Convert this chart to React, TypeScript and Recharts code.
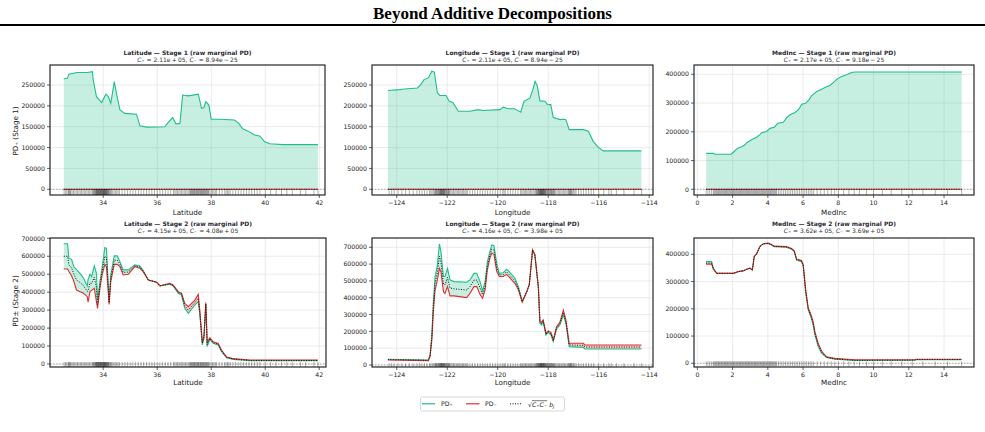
import React from 'react';
import { ComposedChart, Line, Area, Scatter, XAxis, YAxis, CartesianGrid, ReferenceLine } from 'recharts';

// ---------------- DATA ----------------
// Stage 1 (raw marginal PD), values in thousands
const LAT_S1_X = [32.54, 32.67, 32.73, 33.04, 33.41, 33.6, 33.63, 33.75, 33.94, 34.1, 34.19, 34.28, 34.41, 34.49, 34.62, 34.8, 35.23, 35.36, 35.6, 36.28, 36.4, 36.57, 36.69, 36.84, 36.94, 37.15, 37.52, 37.64, 37.73, 37.8, 37.91, 38.0, 38.31, 38.86, 39.02, 39.16, 39.35, 39.6, 39.79, 39.98, 40.17, 40.66, 41.95];
const LAT_S1_POS = [265, 266, 276, 280, 280, 282, 262, 222, 208, 228, 222, 206, 258, 230, 190, 182, 180, 152, 149, 150, 160, 172, 157, 158, 226, 224, 228, 194, 196, 210, 202, 168, 168, 166, 158, 145, 140, 130, 128, 114, 109, 107, 107];

const LON_S1_X = [-124.35, -123.87, -123.8, -123.18, -123.05, -122.92, -122.75, -122.61, -122.51, -122.39, -122.29, -122.05, -121.92, -121.78, -121.56, -121.1, -120.77, -120.58, -119.91, -119.78, -119.58, -119.34, -119.18, -119.09, -118.96, -118.72, -118.61, -118.52, -118.43, -118.33, -118.13, -118.04, -117.9, -117.8, -117.53, -117.4, -117.3, -117.17, -116.61, -116.41, -116.22, -116.02, -115.82, -114.31];
const LON_S1_POS = [237, 239, 240, 243, 251, 263, 267, 283, 281, 231, 225, 225, 211, 208, 187, 187, 191, 189, 191, 197, 193, 193, 188, 185, 211, 219, 239, 259, 247, 212, 211, 204, 203, 172, 167, 168, 167, 143, 143, 139, 115, 101, 92, 92];

const INC_S1_X = [0.5, 0.91, 1.0, 1.91, 2.04, 2.29, 2.51, 2.67, 2.8, 3.08, 3.36, 3.55, 3.65, 3.93, 4.12, 4.37, 4.56, 4.88, 5.07, 5.26, 5.54, 5.73, 5.92, 6.14, 6.33, 6.48, 6.77, 7.05, 7.33, 7.52, 7.71, 7.96, 8.19, 8.47, 8.75, 8.94, 15.0];
const INC_S1_POS = [125, 125, 122, 122, 129, 143, 148, 153, 162, 172, 181, 190, 197, 201, 212, 216, 230, 233, 249, 259, 267, 276, 296, 299, 311, 325, 340, 348, 357, 361, 371, 385, 392, 398, 406, 408, 408];

// Stage 1 negative part and scaled baseline are ~0 (C- ~ 1e-25)
const LAT_S1_NEG = [0, 0];
const LON_S1_NEG = [0, 0];
const INC_S1_NEG = [0, 0];

// Stage 2, values in thousands
const LAT_S2_X = [32.54, 32.68, 32.73, 32.83, 32.91, 33.01, 33.14, 33.26, 33.41, 33.44, 33.51, 33.57, 33.67, 33.75, 33.79, 33.88, 33.96, 34.06, 34.12, 34.22, 34.28, 34.41, 34.52, 34.62, 34.74, 34.93, 35.17, 35.36, 35.48, 35.67, 35.98, 36.10, 36.47, 36.59, 36.78, 36.90, 37.02, 37.15, 37.40, 37.52, 37.58, 37.67, 37.73, 37.80, 37.85, 37.95, 38.07, 38.26, 38.38, 38.57, 38.81, 39.43, 41.95];
const LAT_S2_POS = [670, 670, 589, 583, 542, 525, 505, 481, 435, 470, 500, 486, 546, 505, 357, 460, 535, 648, 644, 347, 495, 602, 602, 570, 524, 524, 552, 546, 520, 468, 455, 435, 444, 435, 394, 384, 310, 282, 329, 347, 273, 106, 143, 330, 97, 137, 115, 106, 69, 35, 26, 19, 19];
const LAT_S2_NEG = [529, 529, 515, 490, 462, 412, 403, 395, 375, 344, 403, 410, 422, 347, 310, 422, 496, 555, 542, 332, 459, 555, 555, 542, 496, 500, 542, 533, 514, 468, 455, 436, 449, 440, 403, 394, 338, 319, 357, 388, 292, 124, 152, 343, 121, 146, 124, 115, 78, 39, 30, 22, 22];
const LAT_S2_BASE = [600, 600, 552, 536, 502, 468, 454, 438, 405, 407, 451, 448, 484, 426, 333, 441, 515, 600, 593, 340, 477, 578, 578, 556, 510, 512, 547, 540, 517, 468, 455, 435, 446, 437, 398, 389, 324, 300, 343, 367, 282, 115, 147, 336, 109, 141, 119, 110, 73, 37, 28, 20, 20];

const LON_S2_X = [-124.35, -122.75, -122.68, -122.61, -122.55, -122.48, -122.39, -122.31, -122.25, -122.15, -122.09, -121.99, -121.89, -121.73, -121.23, -121.10, -120.94, -120.83, -120.70, -120.60, -120.50, -120.41, -120.31, -120.24, -120.15, -120.04, -119.94, -119.78, -119.65, -119.51, -119.32, -119.18, -119.03, -118.85, -118.75, -118.62, -118.53, -118.39, -118.33, -118.26, -118.20, -118.09, -118.00, -117.89, -117.80, -117.67, -117.54, -117.40, -117.30, -117.17, -116.61, -116.55, -114.31];
const LON_S2_POS = [34, 30, 59, 178, 377, 526, 595, 720, 674, 526, 526, 575, 506, 496, 492, 506, 545, 545, 496, 440, 496, 615, 674, 714, 710, 605, 545, 549, 569, 549, 516, 466, 381, 436, 476, 684, 654, 456, 248, 238, 258, 178, 194, 178, 139, 214, 238, 297, 248, 109, 105, 95, 95];
const LON_S2_NEG = [30, 26, 50, 149, 317, 446, 506, 575, 555, 436, 426, 466, 411, 411, 401, 426, 466, 466, 420, 397, 446, 565, 635, 664, 658, 555, 526, 526, 539, 516, 486, 446, 373, 436, 480, 684, 658, 466, 262, 254, 268, 188, 202, 194, 149, 228, 254, 327, 268, 129, 129, 119, 119];
const LON_S2_BASE = [32, 28, 55, 163, 347, 486, 550, 647, 614, 481, 476, 520, 458, 453, 446, 466, 505, 505, 458, 418, 471, 590, 654, 689, 684, 580, 535, 537, 554, 532, 501, 456, 377, 436, 478, 684, 656, 461, 255, 246, 263, 183, 198, 186, 144, 221, 246, 312, 258, 119, 117, 107, 107];

const INC_S2_X = [0.49, 0.81, 0.91, 1.10, 2.04, 2.32, 2.61, 2.80, 2.99, 3.12, 3.23, 3.36, 3.55, 3.74, 4.02, 4.21, 4.36, 5.06, 5.35, 5.50, 5.63, 5.91, 6.01, 6.14, 6.29, 6.44, 6.57, 6.67, 6.86, 7.05, 7.33, 7.80, 8.94, 12.34, 12.43, 15.0];
const INC_S2_POS = [373, 373, 349, 330, 330, 336, 339, 345, 349, 342, 391, 400, 428, 438, 440, 434, 428, 426, 419, 410, 379, 373, 355, 263, 196, 171, 141, 104, 61, 37, 21, 15, 10, 11, 13, 13];
const INC_S2_NEG = [364, 364, 345, 330, 330, 337, 340, 345, 349, 343, 393, 402, 429, 439, 441, 436, 430, 428, 421, 413, 383, 377, 362, 275, 204, 180, 153, 116, 73, 45, 24, 18, 13, 13, 15, 15];
const INC_S2_BASE = [368, 368, 347, 330, 330, 336, 339, 345, 349, 342, 392, 401, 428, 438, 440, 435, 429, 427, 420, 411, 381, 375, 358, 269, 200, 175, 147, 110, 67, 41, 22, 16, 11, 12, 14, 14];

// Rug (observed feature values)
const LAT_RUG = [32.55, 32.6, 32.65, 32.7, 32.72, 32.75, 32.78, 32.8, 32.85, 32.9, 32.95, 33.0, 33.05, 33.1, 33.15, 33.2, 33.25, 33.3, 33.35, 33.4, 33.45, 33.5, 33.55, 33.6, 33.63, 33.65, 33.68, 33.7, 33.72, 33.74, 33.75, 33.77, 33.78, 33.8, 33.81, 33.82, 33.84, 33.85, 33.87, 33.88, 33.9, 33.91, 33.92, 33.94, 33.95, 33.97, 33.98, 34.0, 34.01, 34.02, 34.04, 34.05, 34.06, 34.08, 34.09, 34.1, 34.12, 34.13, 34.15, 34.17, 34.18, 34.2, 34.22, 34.25, 34.28, 34.3, 34.35, 34.4, 34.45, 34.5, 34.55, 34.6, 34.7, 34.8, 34.9, 35.0, 35.1, 35.2, 35.3, 35.4, 35.5, 35.6, 35.7, 35.8, 35.9, 36.0, 36.1, 36.2, 36.3, 36.4, 36.5, 36.6, 36.65, 36.7, 36.75, 36.8, 36.85, 36.9, 36.95, 37.0, 37.05, 37.1, 37.15, 37.2, 37.23, 37.25, 37.28, 37.3, 37.33, 37.35, 37.38, 37.4, 37.43, 37.45, 37.48, 37.5, 37.53, 37.55, 37.58, 37.6, 37.63, 37.65, 37.68, 37.7, 37.72, 37.75, 37.78, 37.8, 37.83, 37.85, 37.88, 37.9, 37.95, 38.0, 38.05, 38.1, 38.15, 38.2, 38.3, 38.4, 38.5, 38.55, 38.6, 38.65, 38.7, 38.8, 38.9, 39.0, 39.1, 39.2, 39.3, 39.4, 39.5, 39.6, 39.7, 39.8, 40.0, 40.2, 40.4, 40.6, 40.8, 41.0, 41.3, 41.5, 41.8, 41.95];
const LON_RUG = [-124.3, -124.2, -124.1, -123.95, -123.8, -123.65, -123.5, -123.35, -123.2, -123.1, -123.0, -122.9, -122.8, -122.7, -122.65, -122.6, -122.55, -122.5, -122.47, -122.45, -122.42, -122.4, -122.37, -122.35, -122.32, -122.3, -122.28, -122.27, -122.25, -122.23, -122.22, -122.2, -122.18, -122.17, -122.15, -122.13, -122.12, -122.1, -122.08, -122.05, -122.03, -122.0, -121.97, -121.95, -121.92, -121.9, -121.85, -121.8, -121.75, -121.7, -121.65, -121.6, -121.55, -121.5, -121.45, -121.4, -121.35, -121.3, -121.25, -121.2, -121.1, -121.0, -120.9, -120.8, -120.7, -120.6, -120.5, -120.4, -120.3, -120.2, -120.1, -120.0, -119.9, -119.8, -119.75, -119.7, -119.6, -119.5, -119.4, -119.3, -119.2, -119.1, -119.05, -119.0, -118.95, -118.9, -118.85, -118.8, -118.75, -118.7, -118.65, -118.6, -118.55, -118.5, -118.47, -118.45, -118.43, -118.4, -118.38, -118.37, -118.35, -118.33, -118.32, -118.3, -118.29, -118.28, -118.27, -118.25, -118.24, -118.22, -118.21, -118.2, -118.18, -118.17, -118.15, -118.13, -118.12, -118.1, -118.08, -118.05, -118.03, -118.0, -117.98, -117.95, -117.92, -117.9, -117.87, -117.85, -117.82, -117.8, -117.77, -117.75, -117.7, -117.65, -117.6, -117.55, -117.5, -117.45, -117.4, -117.35, -117.3, -117.25, -117.2, -117.17, -117.15, -117.12, -117.1, -117.07, -117.05, -117.0, -116.95, -116.9, -116.8, -116.7, -116.6, -116.5, -116.4, -116.3, -116.2, -116.0, -115.8, -115.6, -115.5, -115.3, -115.0, -114.6, -114.3];
const INC_RUG = [0.5, 0.6, 0.7, 0.8, 0.9, 0.95, 1.0, 1.05, 1.1, 1.15, 1.2, 1.25, 1.3, 1.35, 1.4, 1.45, 1.5, 1.55, 1.6, 1.65, 1.7, 1.75, 1.8, 1.85, 1.9, 1.95, 2.0, 2.05, 2.1, 2.15, 2.2, 2.25, 2.3, 2.35, 2.4, 2.45, 2.5, 2.55, 2.6, 2.65, 2.7, 2.75, 2.8, 2.85, 2.9, 2.95, 3.0, 3.05, 3.1, 3.15, 3.2, 3.25, 3.3, 3.35, 3.4, 3.45, 3.5, 3.55, 3.6, 3.65, 3.7, 3.75, 3.8, 3.85, 3.9, 3.95, 4.0, 4.05, 4.1, 4.15, 4.2, 4.25, 4.3, 4.35, 4.4, 4.45, 4.5, 4.6, 4.7, 4.8, 4.9, 5.0, 5.1, 5.2, 5.3, 5.4, 5.5, 5.6, 5.7, 5.8, 5.9, 6.0, 6.1, 6.2, 6.3, 6.4, 6.5, 6.6, 6.8, 7.0, 7.2, 7.4, 7.6, 7.8, 8.0, 8.3, 8.6, 8.9, 9.2, 9.6, 10.0, 10.5, 11.0, 11.6, 12.2, 12.8, 13.5, 14.2, 15.0];

const LAT_TICKS = [34, 36, 38, 40, 42];
const LON_TICKS = [-124, -122, -120, -118, -116, -114];
const INC_TICKS = [0, 2, 4, 6, 8, 10, 12, 14];
const Y_TICKS_250K = [0, 50000, 100000, 150000, 200000, 250000];
const Y_TICKS_400K = [0, 100000, 200000, 300000, 400000];
const Y_TICKS_700K = [0, 100000, 200000, 300000, 400000, 500000, 600000, 700000];

// ---------------- STYLE ----------------
const GREEN = '#1fbf86';
const RED = '#e0302f';
const ML = 40, MT = 5, MR = 5, MB = 25;
const SANS = 'DejaVu Sans';

const K = 1000;
function stage1Rows(xs: number[], pos: number[]) {
  return xs.map((x, i) => ({ x, g: pos[i] * K }));
}
function zeroRows(xs: number[], neg: number[]) {
  return [{ x: xs[0], r: neg[0], d: neg[0] }, { x: xs[xs.length - 1], r: neg[1], d: neg[1] }];
}
function stage2Rows(xs: number[], pos: number[], neg: number[], base: number[]) {
  return xs.map((x, i) => {
    const g = pos[i] * K, r = neg[i] * K, hi = Math.max(g, r);
    return { x, g, r, d: base[i] * K, up: [r, hi], dn: [g, hi] };
  });
}
const rugRows = (v: number[]) => v.map((x) => ({ x, y: 0 }));

const fmtX = (v: number) => (v < 0 ? '\u2212' + Math.abs(v) : String(v));

const XTick = (props: any) => (
  <text x={props.x} y={props.y} dy={5} textAnchor="middle" fontFamily={SANS} fontSize={6.2} fill="#222">{fmtX(props.payload.value)}</text>
);
const YTick = (props: any) => (
  <text x={props.x} y={props.y} dy={2.2} textAnchor="end" fontFamily={SANS} fontSize={6.2} fill="#222">{String(props.payload.value)}</text>
);

const rugShape = (above: number, below: number) => (p: any) => (
  <line x1={p.cx} x2={p.cx} y1={p.cy - above} y2={p.cy + below} stroke="#000" strokeOpacity={0.3} strokeWidth={1} />
);

type PanelCfg = {
  box: [number, number, number, number];
  xDomain: [number, number];
  xTicks: number[];
  yDomain: [number, number];
  yTicks: number[];
  stage: 1 | 2;
  rows: any[];
  zero?: any[];
  rug: any[];
};

function Panel({ p }: { p: PanelCfg }) {
  const [x0, y0, x1, y1] = p.box;
  const w = x1 - x0, h = y1 - y0;
  return (
    <div style={{ position: 'absolute', left: x0 - ML, top: y0 - MT }}>
      <ComposedChart width={w + ML + MR} height={h + MT + MB} margin={{ top: MT, right: MR, bottom: 0, left: 0 }}>
        <CartesianGrid stroke="#e2e2e2" strokeWidth={0.7} />
        <XAxis type="number" dataKey="x" domain={p.xDomain} ticks={p.xTicks} allowDataOverflow interval={0}
          height={MB} tick={XTick} tickSize={3} tickMargin={2} stroke="#222" tickLine={{ stroke: '#222', strokeWidth: 0.7 }} axisLine={false} />
        <YAxis type="number" domain={p.yDomain} ticks={p.yTicks} allowDataOverflow interval={0}
          width={ML} tick={YTick} tickSize={3} tickMargin={2} stroke="#222" tickLine={{ stroke: '#222', strokeWidth: 0.7 }} axisLine={false} />
        {p.stage === 1 ? (
          <Area data={p.rows} dataKey="g" type="linear" baseValue={0} fill={GREEN} fillOpacity={0.25} stroke="none" isAnimationActive={false} />
        ) : null}
        {p.stage === 2 ? (
          <Area data={p.rows} dataKey="up" type="linear" fill={GREEN} fillOpacity={0.25} stroke="none" isAnimationActive={false} />
        ) : null}
        {p.stage === 2 ? (
          <Area data={p.rows} dataKey="dn" type="linear" fill={RED} fillOpacity={0.25} stroke="none" isAnimationActive={false} />
        ) : null}
        <ReferenceLine y={0} stroke="#888" strokeDasharray="1.5 1.5" strokeWidth={0.7} />
        <Scatter data={p.rug} dataKey="y" shape={p.stage === 1 ? rugShape(0, 6) : rugShape(2, 3)} isAnimationActive={false} />
        <Line data={p.rows} dataKey="g" type="linear" stroke={GREEN} strokeWidth={1.1} dot={false} isAnimationActive={false} />
        <Line data={p.stage === 1 ? p.zero : p.rows} dataKey="r" type="linear" stroke={RED} strokeWidth={1.1} dot={false} isAnimationActive={false} />
        <Line data={p.stage === 1 ? p.zero : p.rows} dataKey="d" type="linear" stroke="#111" strokeWidth={1} strokeDasharray="1 1.5" dot={false} isAnimationActive={false} />
      </ComposedChart>
    </div>
  );
}

const PANELS: PanelCfg[] = [
  { box: [50, 65, 325, 195], xDomain: [32.03, 42.21], xTicks: LAT_TICKS, yDomain: [-13700, 298000], yTicks: Y_TICKS_250K, stage: 1, rows: stage1Rows(LAT_S1_X, LAT_S1_POS), zero: zeroRows(LAT_S1_X, LAT_S1_NEG), rug: rugRows(LAT_RUG) },
  { box: [372, 65, 653, 195], xDomain: [-124.98, -113.85], xTicks: LON_TICKS, yDomain: [-13700, 298000], yTicks: Y_TICKS_250K, stage: 1, rows: stage1Rows(LON_S1_X, LON_S1_POS), zero: zeroRows(LON_S1_X, LON_S1_NEG), rug: rugRows(LON_RUG) },
  { box: [694, 65, 974, 195], xDomain: [-0.19, 15.7], xTicks: INC_TICKS, yDomain: [-19800, 432300], yTicks: Y_TICKS_400K, stage: 1, rows: stage1Rows(INC_S1_X, INC_S1_POS), zero: zeroRows(INC_S1_X, INC_S1_NEG), rug: rugRows(INC_RUG) },
  { box: [50, 238, 326, 367], xDomain: [32.03, 42.25], xTicks: LAT_TICKS, yDomain: [-16700, 701700], yTicks: Y_TICKS_700K, stage: 2, rows: stage2Rows(LAT_S2_X, LAT_S2_POS, LAT_S2_NEG, LAT_S2_BASE), rug: rugRows(LAT_RUG) },
  { box: [372, 238, 653, 367], xDomain: [-124.98, -113.85], xTicks: LON_TICKS, yDomain: [-11900, 755300], yTicks: Y_TICKS_700K, stage: 2, rows: stage2Rows(LON_S2_X, LON_S2_POS, LON_S2_NEG, LON_S2_BASE), rug: rugRows(LON_RUG) },
  { box: [694, 238, 974, 367], xDomain: [-0.19, 15.7], xTicks: INC_TICKS, yDomain: [-13600, 459800], yTicks: Y_TICKS_400K, stage: 2, rows: stage2Rows(INC_S2_X, INC_S2_POS, INC_S2_NEG, INC_S2_BASE), rug: rugRows(INC_RUG) },
];

const TITLES = [
  'Latitude \u2014 Stage 1 (raw marginal PD)',
  'Longitude \u2014 Stage 1 (raw marginal PD)',
  'MedInc \u2014 Stage 1 (raw marginal PD)',
  'Latitude \u2014 Stage 2 (raw marginal PD)',
  'Longitude \u2014 Stage 2 (raw marginal PD)',
  'MedInc \u2014 Stage 2 (raw marginal PD)',
];
const CPOS = ['2.11e\u2009+\u200905', '2.11e\u2009+\u200905', '2.17e\u2009+\u200905', '4.15e\u2009+\u200905', '4.16e\u2009+\u200905', '3.62e\u2009+\u200905'];
const CNEG = ['8.94e\u2009\u2212\u200925', '8.94e\u2009\u2212\u200925', '9.18e\u2009\u2212\u200925', '4.08e\u2009+\u200905', '3.98e\u2009+\u200905', '3.69e\u2009+\u200905'];
const XLABELS = ['Latitude', 'Longitude', 'MedInc', 'Latitude', 'Longitude', 'MedInc'];

export default function App() {
  const sans = SANS;
  return (
    <div style={{ position: 'absolute', left: 0, top: 0, width: 985, height: 432, background: '#fff', overflow: 'hidden' }}>
      {PANELS.map((p, i) => <Panel key={i} p={p} />)}
      <svg width={985} height={432} style={{ position: 'absolute', left: 0, top: 0, pointerEvents: 'none' }}>
        <text x={492.5} y={19} textAnchor="middle" fontFamily="Liberation Serif" fontWeight="bold" fontSize={17} fill="#000">Beyond Additive Decompositions</text>
        <rect x={0} y={24} width={985} height={2} fill="#000" />
        {PANELS.map((p, i) => {
          const [x0, y0, x1, y1] = p.box;
          const cx = (x0 + x1) / 2;
          const top = i < 3;
          const tY = top ? 54.7 : 225.5;
          const sY = top ? 61.5 : 232.5;
          const lY = top ? 215 : 385;
          return (
            <g key={i}>
              <rect x={x0} y={y0} width={x1 - x0} height={y1 - y0} fill="none" stroke="#1a1a1a" strokeWidth={1.1} />
              <text x={cx} y={tY} textAnchor="middle" fontFamily={sans} fontWeight="bold" fontSize={6} fill="#2a2a35">{TITLES[i]}</text>
              <text x={cx} y={sY} textAnchor="middle" fontFamily={sans} fontSize={6} fill="#333">
                <tspan fontStyle="italic">C</tspan>{'\u208A = ' + CPOS[i] + ', '}<tspan fontStyle="italic">C</tspan>{'\u208B = ' + CNEG[i]}
              </text>
              <text x={cx} y={lY} textAnchor="middle" fontFamily={sans} fontSize={7.2} fill="#222">{XLABELS[i]}</text>
            </g>
          );
        })}
        <text transform="translate(17.5,131) rotate(-90)" textAnchor="middle" fontFamily={sans} fontSize={7.2} fill="#222">PD{'\u208A'} (Stage 1)</text>
        <text transform="translate(17.5,301) rotate(-90)" textAnchor="middle" fontFamily={sans} fontSize={7.2} fill="#222">PD{'\u00B1'} (Stage 2)</text>
        <g>
          <rect x={420.5} y={397} width={144} height={14} rx={2} fill="#fff" stroke="#cfcfcf" strokeWidth={0.8} />
          <line x1={422} x2={435} y1={403.8} y2={403.8} stroke={GREEN} strokeWidth={1.2} />
          <text x={441} y={406} fontFamily={sans} fontSize={6.2} fill="#222">PD{'\u208A'}</text>
          <line x1={466} x2={479.5} y1={403.8} y2={403.8} stroke={RED} strokeWidth={1.2} />
          <text x={485} y={406} fontFamily={sans} fontSize={6.2} fill="#222">PD{'\u208B'}</text>
          <line x1={510} x2={522.5} y1={403.8} y2={403.8} stroke="#111" strokeWidth={1} strokeDasharray="1 1.5" />
          <text x={528} y={406.5} fontFamily={sans} fontSize={6.2} fill="#222">
            {'\u221A'}<tspan fontStyle="italic" textDecoration="overline">C{'\u208A'}C{'\u208B'}</tspan>{' '}<tspan fontStyle="italic">b</tspan><tspan fontSize={4.5} dy={1.2} fontStyle="italic">j</tspan>
          </text>
        </g>
      </svg>
    </div>
  );
}
